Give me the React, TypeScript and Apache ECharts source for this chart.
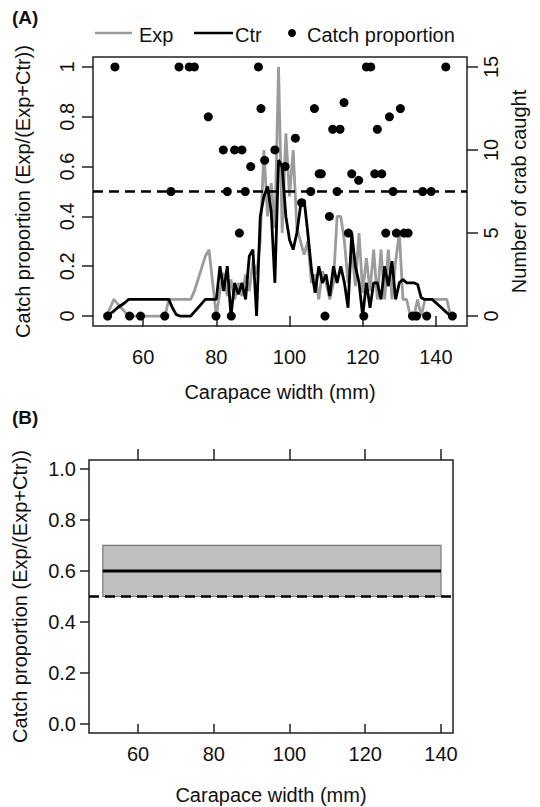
import React, { useEffect, useRef } from "react";
import * as echarts from "echarts";

// ---- Panel A data ----
const widths = [
  50, 51, 52, 53, 54, 55, 56, 57, 58, 59, 60, 61, 62, 63, 64, 65, 66, 67, 68, 69,
  70, 71, 72, 73, 74, 75, 76, 77, 78, 79, 80, 81, 82, 83, 84, 85, 86, 87, 88, 89,
  90, 91, 92, 93, 94, 95, 96, 97, 98, 99, 100, 101, 102, 103, 104, 105, 106, 107, 108, 109,
  110, 111, 112, 113, 114, 115, 116, 117, 118, 119, 120, 121, 122, 123, 124, 125, 126, 127, 128, 129,
  130, 131, 132, 133, 134, 135, 136, 137, 138, 139, 140, 141, 142, 143, 144, 145,
];
const expCount = [
  0, 0.5, 1, 0.75, 0.5, 0.25, 0, 0, 0, 0, 0, 0, 0, 0, 0, 0, 0, 1, 1, 1,
  1, 1, 1, 1, 1.5, 2.2, 2.9, 3.6, 4, 2, 0, 1.5, 2.6, 1.2, 2.2, 1, 2, 1.2, 2.5, 1.5,
  3.3, 2.5, 4.5, 10, 6, 8, 5.3, 15, 5, 11, 7.2, 10, 5.3, 4.5, 3.7, 4.5, 2, 2.5, 1, 2.7,
  2, 1, 2, 6, 6, 4.5, 2, 4, 1.8, 5, 1.4, 3.5, 1.5, 4, 1, 4, 1, 4, 1, 3.3,
  5, 1, 1, 0, 0, 1, 0, 1, 1, 1, 1, 1, 1, 1, 0, 0,
];
const ctrCount = [
  0, 0.15, 0.3, 0.5, 0.65, 0.8, 1, 1, 1, 1, 1, 1, 1, 1, 1, 1, 1, 1, 0.5, 0.1,
  0, 0, 0, 0, 0.25, 0.5, 0.75, 1, 1, 1, 1, 3, 1.5, 3, 0, 2, 1.3, 2, 1, 3.6,
  4, 0, 6, 7.2, 7.8, 6.3, 2, 9.4, 9, 6, 4.6, 4, 5, 6.6, 7, 5, 2.8, 1.4, 3, 2,
  2.5, 1.2, 3, 2, 3, 2, 0.5, 5, 3, 2, 0, 2, 0.5, 2, 2, 1, 3, 1.8, 3.3, 1,
  2, 2.2, 2, 2, 2, 1.9, 1.1, 1, 1, 1, 0.8, 0.6, 0.4, 0.2, 0, 0,
];
const dotWidths = [
  50.3, 52.3, 56.3, 59.3, 65.9, 67.6, 69.8, 72.6, 74.0, 77.8, 79.9, 81.9, 83.0, 84.1, 85.0,
  86.3, 87.0, 87.9, 89.4, 91.5, 92.2, 93.2, 96.0, 98.8, 101.6, 103.3, 105.8, 106.8, 108.1, 108.7,
  109.7, 110.9, 111.8, 113.0, 113.8, 114.9, 116.1, 117.0, 118.9, 120.3, 121.0, 122.2, 123.3, 124.0, 125.2,
  126.3, 127.3, 128.3, 129.2, 130.3, 131.3, 132.4, 133.6, 134.7, 136.4, 137.5, 138.7, 142.7, 144.5,
];
const dotProps = [
  0, 1, 0, 0, 0, 0.5, 1, 1, 1, 0.8, 0, 0.667, 0.5, 0, 0.667,
  0.333, 0.667, 0.5, 0.6, 1, 0.833, 0.625, 0.667, 0.6, 0.714, 0.455, 0.5, 0.833, 0.571, 0.571,
  0, 0.4, 0.75, 0.5, 0.75, 0.857, 0.333, 0.571, 0.545, 0, 1, 1, 0.571, 0.75, 0.571,
  0.333, 0.8, 0.5, 0.333, 0.833, 0.333, 0.333, 0, 0, 0.5, 0, 0.5, 1, 0,
];
const xTicks = [60, 80, 100, 120, 140];
const propTicks = [0, 0.2, 0.4, 0.6, 0.8, 1];
const countTicks = [0, 5, 10, 15];
const refLevel = 0.5;

// ---- Panel B data ----
const bandWidths = [50.7, 140];
const bandFit = [0.6, 0.6];
const bandLower = [0.5, 0.5];
const bandUpper = [0.7, 0.7];

const FONT = "Liberation Sans, Arial, Helvetica, sans-serif";
const INK = "#111";

export default function App() {
  const ref = useRef<HTMLDivElement>(null);
  useEffect(() => {
    if (!ref.current) return;
    const chart = echarts.init(ref.current, undefined, { renderer: "svg" });
    const tickStyle = { color: "#222", width: 1.5 };
    const labelBase = { fontSize: 20, color: INK, fontFamily: FONT };
    const nameStyle = { fontSize: 20, color: INK, fontFamily: FONT };
    const option: any = {
      animation: false,
      backgroundColor: "#fff",
      grid: [
        { left: 93, top: 57, width: 374, height: 269, show: true, borderColor: "#222", borderWidth: 1.5, backgroundColor: "transparent" },
        { left: 89, top: 460, width: 364, height: 273, show: true, borderColor: "#222", borderWidth: 1.5, backgroundColor: "transparent" },
      ],
      xAxis: [
        {
          gridIndex: 0, type: "value", min: 46.3, max: 148.5, position: "bottom",
          axisLine: { show: false }, splitLine: { show: false },
          axisTick: { show: true, inside: false, length: 11, customValues: xTicks, lineStyle: tickStyle },
          axisLabel: { ...labelBase, customValues: xTicks, margin: 21 },
          name: "Carapace width (mm)", nameLocation: "middle", nameGap: 56, nameTextStyle: nameStyle,
        },
        {
          gridIndex: 1, type: "value", min: 47.06, max: 143.17, position: "bottom",
          axisLine: { show: false }, splitLine: { show: false },
          axisTick: { show: true, inside: false, length: 9, customValues: xTicks, lineStyle: tickStyle },
          axisLabel: { ...labelBase, customValues: xTicks, margin: 11 },
          name: "Carapace width (mm)", nameLocation: "middle", nameGap: 52, nameTextStyle: nameStyle,
        },
        {
          gridIndex: 1, type: "value", min: 47.06, max: 143.17, position: "top",
          axisLine: { show: false }, splitLine: { show: false },
          axisTick: { show: true, inside: false, length: 11, customValues: xTicks, lineStyle: tickStyle },
          axisLabel: { show: false },
        },
      ],
      yAxis: [
        {
          gridIndex: 0, type: "value", min: -0.04, max: 1.04, position: "left",
          axisLine: { show: false }, splitLine: { show: false },
          axisTick: { show: true, inside: false, length: 11, customValues: propTicks, lineStyle: tickStyle },
          axisLabel: { ...labelBase, customValues: propTicks, rotate: 90, margin: 16, formatter: (v: number) => String(+(+v).toFixed(1)) },
          name: "Catch proportion (Exp/(Exp+Ctr))", nameLocation: "middle", nameGap: 60, nameRotate: 90, nameTextStyle: nameStyle,
        },
        {
          gridIndex: 0, type: "value", min: -0.6, max: 15.6, position: "right",
          axisLine: { show: false }, splitLine: { show: false },
          axisTick: { show: true, inside: false, length: 11, customValues: countTicks, lineStyle: tickStyle },
          axisLabel: { ...labelBase, customValues: countTicks, rotate: 90, margin: 14 },
          name: "Number of crab caught", nameLocation: "middle", nameGap: 40, nameRotate: 90, nameTextStyle: nameStyle,
        },
        {
          gridIndex: 1, type: "value", min: -0.035, max: 1.035, position: "left",
          axisLine: { show: false }, splitLine: { show: false },
          axisTick: { show: true, inside: false, length: 9, customValues: propTicks, lineStyle: tickStyle },
          axisLabel: { ...labelBase, customValues: propTicks, margin: 13, formatter: (v: number) => (+v).toFixed(1) },
          name: "Catch proportion (Exp/(Exp+Ctr))", nameLocation: "middle", nameGap: 59, nameRotate: 90, nameTextStyle: nameStyle,
        },
      ],
      series: [
        {
          name: "Exp", type: "line", xAxisIndex: 0, yAxisIndex: 1, symbol: "none",
          data: widths.map((w, i) => [w, expCount[i]]),
          lineStyle: { color: "#9b9b9b", width: 2.8 }, z: 2,
        },
        {
          name: "Ctr", type: "line", xAxisIndex: 0, yAxisIndex: 1, symbol: "none",
          data: widths.map((w, i) => [w, ctrCount[i]]),
          lineStyle: { color: "#000", width: 2.8 }, z: 3,
        },
        {
          name: "Catch proportion", type: "scatter", xAxisIndex: 0, yAxisIndex: 0,
          symbol: "circle", symbolSize: 9, itemStyle: { color: "#000", opacity: 1 }, z: 5,
          data: dotWidths.map((w, i) => [w, dotProps[i]]),
          markLine: {
            silent: true, symbol: ["none", "none"], label: { show: false },
            lineStyle: { color: "#000", width: 2.5, type: [10, 6] },
            data: [{ yAxis: refLevel }],
          },
        },
        {
          name: "band", type: "line", xAxisIndex: 1, yAxisIndex: 2, symbol: "none",
          data: bandWidths.map((w, i) => [w, bandFit[i]]),
          lineStyle: { color: "#000", width: 3 }, z: 3,
          markArea: {
            silent: true,
            itemStyle: { color: "#c0c0c0", borderColor: "#7a7a7a", borderWidth: 1.2 },
            data: [[{ coord: [bandWidths[0], bandUpper[0]] }, { coord: [bandWidths[1], bandLower[1]] }]],
          },
          markLine: {
            silent: true, symbol: ["none", "none"], label: { show: false },
            lineStyle: { color: "#000", width: 2.5, type: [10, 6] },
            data: [{ yAxis: refLevel }],
          },
        },
      ],
      graphic: [
        { type: "text", left: 12, top: 8, style: { text: "(A)", fontSize: 19, fontWeight: "bold", fill: INK, fontFamily: FONT } },
        { type: "text", left: 12, top: 408, style: { text: "(B)", fontSize: 19, fontWeight: "bold", fill: INK, fontFamily: FONT } },
        { type: "line", shape: { x1: 95, y1: 33, x2: 132, y2: 33 }, style: { stroke: "#9b9b9b", lineWidth: 2.5 } },
        { type: "text", x: 139, y: 35, style: { text: "Exp", fontSize: 20, fill: INK, fontFamily: FONT, verticalAlign: "middle" } },
        { type: "line", shape: { x1: 194, y1: 33, x2: 233, y2: 33 }, style: { stroke: "#000", lineWidth: 2.5 } },
        { type: "text", x: 235, y: 35, style: { text: "Ctr", fontSize: 20, fill: INK, fontFamily: FONT, verticalAlign: "middle" } },
        { type: "circle", shape: { cx: 292, cy: 33, r: 4 }, style: { fill: "#000" } },
        { type: "text", x: 307, y: 35, style: { text: "Catch proportion", fontSize: 20, fill: INK, fontFamily: FONT, verticalAlign: "middle" } },
      ],
    };
    chart.setOption(option);
    return () => chart.dispose();
  }, []);
  return <div ref={ref} style={{ position: "fixed", left: 0, top: 0, width: 540, height: 807, background: "#fff" }} />;
}
